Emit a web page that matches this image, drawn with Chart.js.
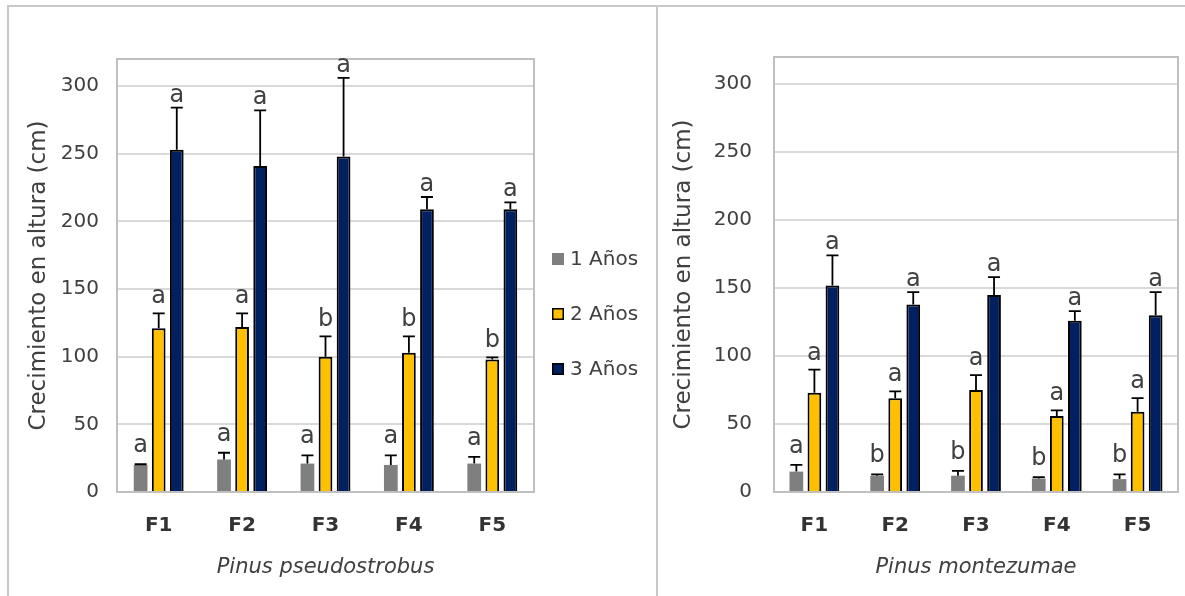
<!DOCTYPE html>
<html>
<head>
<meta charset="utf-8">
<script src="https://cdn.jsdelivr.net/npm/chart.js@4.4.1/dist/chart.umd.min.js"></script>
<style>
  body { margin: 0; background: #fff; width: 1185px; height: 596px; overflow: hidden; position: relative; }
  #frame { position: absolute; left: 7px; top: 5px; width: 1178px; height: 591px; border-left: 2px solid #c8c8c8; border-top: 2px solid #c8c8c8; }
  #divider { position: absolute; left: 656px; top: 5px; width: 2px; height: 591px; background: #c8c8c8; }
  canvas { position: absolute; }
  #left { left: 9px; top: 7px; }
  #right { left: 658px; top: 7px; }
</style>
</head>
<body>
<div id="frame"></div>
<div id="divider"></div>
<canvas id="left" width="647" height="589"></canvas>
<canvas id="right" width="527" height="589"></canvas>
<script>
const categories = ['F1', 'F2', 'F3', 'F4', 'F5'];
const seriesNames = ['1 Años', '2 Años', '3 Años'];
const yTicks = [0, 50, 100, 150, 200, 250, 300];

// Pinus pseudostrobus
const psY1 = [20, 24, 21, 20, 21];
const psE1 = [0.5, 5, 6, 7, 5];
const psY2 = [121, 122, 100, 103, 98];
const psE2 = [11, 10, 15, 12, 1.5];
const psY3 = [253, 241, 248, 209, 209];
const psE3 = [31, 41, 58, 9, 5];
const psL1 = ['a', 'a', 'a', 'a', 'a'];
const psL2 = ['a', 'a', 'b', 'b', 'b'];
const psL3 = ['a', 'a', 'a', 'a', 'a'];

// Pinus montezumae
const pmY1 = [15, 12, 12, 10, 9.5];
const pmE1 = [5, 1, 3.5, 1, 3.5];
const pmY2 = [73, 69, 75, 56, 59];
const pmE2 = [17, 5, 11, 4, 10];
const pmY3 = [152, 138, 145, 126, 130];
const pmE3 = [22, 9, 13, 7, 17];
const pmL1 = ['a', 'b', 'b', 'b', 'b'];
const pmL2 = ['a', 'a', 'a', 'a', 'a'];
const pmL3 = ['a', 'a', 'a', 'a', 'a'];

const FONT = 'DejaVu Sans';
const TEXT = '#404040';
const colors = ['#7f7f7f', '#ffc000', '#002060'];
const borders = [0, 2, 2];
const letterGaps = [12, 10, 6];

const frame = {
  id: 'frame',
  beforeDatasetsDraw(chart) {
    const a = chart.chartArea;
    const ctx = chart.ctx;
    ctx.save();
    ctx.strokeStyle = '#c0c0c0';
    ctx.lineWidth = 2;
    ctx.strokeRect(a.left, a.top, a.right - a.left, a.bottom - a.top);
    ctx.restore();
  }
};

const errorBars = {
  id: 'errorBars',
  afterDatasetsDraw(chart) {
    const ctx = chart.ctx;
    const y = chart.scales.y;
    chart.data.datasets.forEach((ds, i) => {
      const meta = chart.getDatasetMeta(i);
      meta.data.forEach((bar, j) => {
        const top = y.getPixelForValue(ds.data[j] + ds.errors[j]);
        ctx.save();
        ctx.strokeStyle = '#000';
        ctx.lineWidth = 1.8;
        ctx.beginPath();
        ctx.moveTo(bar.x, bar.y);
        ctx.lineTo(bar.x, top);
        ctx.moveTo(bar.x - 6, top);
        ctx.lineTo(bar.x + 6, top);
        ctx.stroke();
        ctx.fillStyle = TEXT;
        ctx.font = '24px "' + FONT + '"';
        ctx.textAlign = 'center';
        ctx.textBaseline = 'alphabetic';
        ctx.fillText(ds.letters[j], bar.x, top - letterGaps[i]);
        ctx.restore();
      });
    });
  }
};

const sideLegend = {
  id: 'sideLegend',
  afterDraw(chart, args, opts) {
    if (!opts.show) return;
    const ctx = chart.ctx;
    ctx.save();
    chart.data.datasets.forEach((ds, i) => {
      const cy = opts.y + i * opts.step;
      ctx.fillStyle = colors[i];
      ctx.fillRect(opts.x, cy - 6, 12, 12);
      if (borders[i]) {
        ctx.strokeStyle = '#000';
        ctx.lineWidth = 1.5;
        ctx.strokeRect(opts.x + 0.75, cy - 5.25, 10.5, 10.5);
      }
      ctx.fillStyle = TEXT;
      ctx.font = '20px "' + FONT + '"';
      ctx.textAlign = 'left';
      ctx.textBaseline = 'middle';
      ctx.fillText(ds.label, opts.x + 18, cy + 1);
    });
    ctx.restore();
  }
};

function makeChart(id, values, errors, letters, species, geo) {
  const datasets = values.map((v, i) => ({
    label: seriesNames[i],
    data: v,
    errors: errors[i],
    letters: letters[i],
    backgroundColor: colors[i],
    borderColor: '#000',
    borderWidth: borders[i],
    categoryPercentage: geo.cat,
    barPercentage: geo.bar
  }));

  return new Chart(document.getElementById(id).getContext('2d'), {
    type: 'bar',
    data: { labels: categories, datasets: datasets },
    plugins: [frame, errorBars, sideLegend],
    options: {
      responsive: false,
      animation: false,
      layout: { padding: { top: geo.top, right: geo.right, left: 0, bottom: 0 } },
      plugins: {
        legend: { display: false },
        tooltip: { enabled: false },
        sideLegend: geo.legend
      },
      scales: {
        x: {
          grid: { display: false, drawTicks: false },
          border: { display: false },
          ticks: { color: '#333', padding: 22, font: { family: FONT, size: 20, weight: 'bold' } },
          title: {
            display: true, text: species, color: TEXT,
            padding: { top: 0, bottom: 16 },
            font: { family: FONT, size: 21, style: 'italic' }
          },
          afterFit(scale) { scale.height = 104; }
        },
        y: {
          min: 0,
          max: 320,
          grid: { color: '#d9d9d9', lineWidth: 2, drawTicks: false },
          border: { display: false },
          afterBuildTicks(scale) { scale.ticks = yTicks.map(v => ({ value: v })); },
          ticks: { color: TEXT, padding: geo.tickPad, font: { family: FONT, size: 20 } },
          title: {
            display: true, text: 'Crecimiento en altura (cm)', color: TEXT,
            padding: { top: geo.titlePad, bottom: 0 },
            font: { family: FONT, size: 23 }
          },
          afterFit(scale) { scale.width = geo.yWidth; }
        }
      }
    }
  });
}

makeChart('left', [psY1, psY2, psY3], [psE1, psE2, psE3], [psL1, psL2, psL3], 'Pinus pseudostrobus', {
  cat: 0.65, bar: 0.76, top: 52, right: 122, yWidth: 108, tickPad: 18, titlePad: 16,
  legend: { show: true, x: 543, y: 252, step: 55 }
});

makeChart('right', [pmY1, pmY2, pmY3], [pmE1, pmE2, pmE3], [pmL1, pmL2, pmL3], 'Pinus montezumae', {
  cat: 0.67, bar: 0.76, top: 50, right: 7, yWidth: 116, tickPad: 22, titlePad: 12,
  legend: { show: false }
});
</script>
</body>
</html>
